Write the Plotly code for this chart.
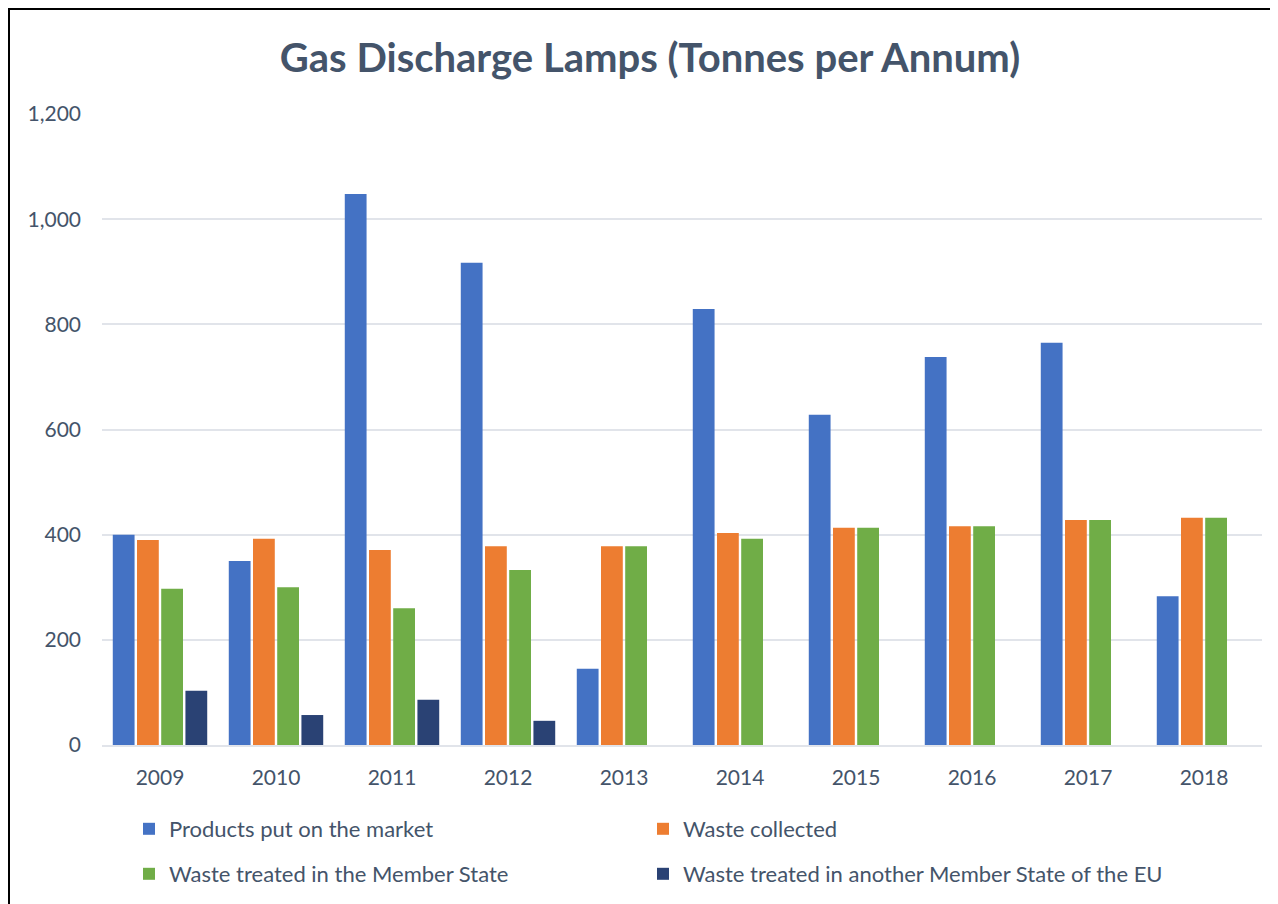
import plotly.graph_objects as go

# Gas discharge lamps, tonnes per annum
years = ["2009", "2010", "2011", "2012", "2013", "2014", "2015", "2016", "2017", "2018"]
put_on_market = [400, 350, 1048, 917, 145, 829, 628, 738, 765, 283]
waste_collected = [390, 392, 371, 378, 378, 403, 413, 416, 428, 432]
treated_in_ms = [297, 300, 260, 333, 378, 392, 413, 416, 428, 432]
treated_other_ms = [103, 57, 86, 46, None, None, None, None, None, None]

series = [
    ("Products put on the market", put_on_market, "#4472C4", "legend"),
    ("Waste collected", waste_collected, "#ED7D31", "legend2"),
    ("Waste treated in the Member State", treated_in_ms, "#70AD47", "legend3"),
    ("Waste treated in another Member State of the EU", treated_other_ms, "#2A4274", "legend4"),
]

# the page puts the figure 8px in from the top-left corner
OFF = 8
W, H = 1278, 904
L, R, T, B = 102 - OFF, 16 + OFF, 114 - OFF, 159 + OFF
pw, ph = W - L - R, H - T - B

def px_x(px):
    # screen pixel -> paper x
    return (px - OFF - L) / pw

def px_y(py):
    # screen pixel -> paper y
    return (H - B - (py - OFF)) / ph

fig = go.Figure()
for name, vals, col, leg in series:
    fig.add_trace(go.Bar(x=years, y=vals, name=name, marker_color=col,
                         marker_line_width=0, legend=leg))

txt = "#44546A"
legend_common = dict(orientation="h", xanchor="left", yanchor="middle",
                     font=dict(family="Lato", size=22, color=txt),
                     bgcolor="rgba(0,0,0,0)")

fig.update_layout(
    width=W, height=H,
    margin=dict(l=L, r=R, t=T, b=B),
    paper_bgcolor="white", plot_bgcolor="white",
    barmode="group", bargap=0.165, bargroupgap=0.1,
    title=dict(text="<b>Gas Discharge Lamps (Tonnes per Annum)</b>",
               x=px_x(650), xref="paper", xanchor="center",
               y=1 - (58 - OFF) / H, yanchor="middle",
               font=dict(family="Lato", size=40, color=txt)),
    font=dict(family="Lato", color=txt),
    legend=dict(x=px_x(129), y=px_y(829), **legend_common),
    legend2=dict(x=px_x(643), y=px_y(829), **legend_common),
    legend3=dict(x=px_x(129), y=px_y(874), **legend_common),
    legend4=dict(x=px_x(643), y=px_y(874), **legend_common),
    showlegend=True,
)

fig.update_yaxes(range=[0, 1200], dtick=200, tickformat=",",
                 showgrid=True, gridcolor="#E1E4EA", gridwidth=2,
                 zeroline=False, showline=False,
                 tickfont=dict(family="Lato", size=21, color=txt),
                 ticklabelstandoff=20)
fig.update_xaxes(showline=True, linecolor="#E1E4EA", linewidth=2,
                 tickfont=dict(family="Lato", size=21, color=txt),
                 ticklabelstandoff=13)

# outer frame of the chart area
fig.add_shape(type="rect", xref="paper", yref="paper",
              x0=px_x(9), x1=px_x(1300), y0=px_y(930), y1=px_y(9),
              line=dict(color="black", width=2), fillcolor="rgba(0,0,0,0)",
              layer="above")

fig.write_html("out.html")
